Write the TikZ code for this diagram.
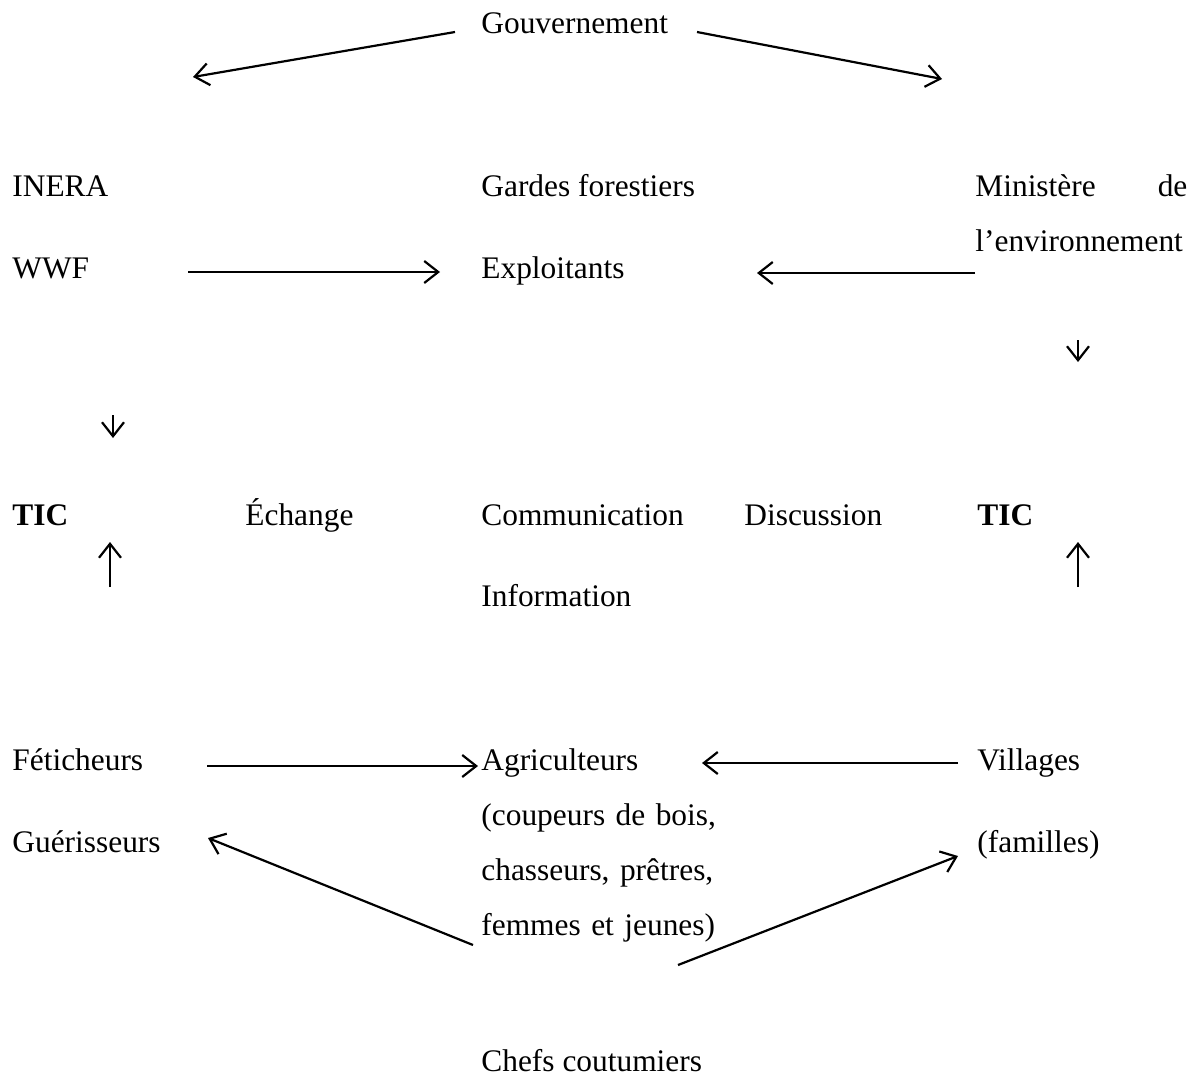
\documentclass[tikz,border=0pt]{standalone}
\usepackage{fontspec}
\setmainfont{Liberation Serif}
\usetikzlibrary{arrows.meta}
\begin{document}
\begin{tikzpicture}[x = 0.5pt, y = -0.5pt,
  lbl/.style = {anchor = base west, inner sep = 0pt, font = \fontsize{15.7}{27.5}\selectfont},
  arr/.style = {line width = 1.1pt, -{Straight Barb[length = 7pt, width = 11pt]}}]
\useasboundingbox (0,0) rectangle (1197,1076);
% top
\node[lbl] (gouv) at (481,33) {Gouvernement};
\node[lbl] (inera) at (12,196) {INERA};
\node[lbl] (gardes) at (481,196) {Gardes forestiers};
\node[lbl, text width = 106pt, align = left] (minenv) at (975,196) {Ministère \hfill de\\l’environnement};
\node[lbl] (wwf) at (12,278) {WWF};
\node[lbl] (exploit) at (481,278) {Exploitants};
% middle
\node[lbl] (ticl) at (12,525) {\textbf{TIC}};
\node[lbl] (echange) at (245,525) {Échange};
\node[lbl] (comm) at (481,525) {Communication};
\node[lbl] (disc) at (744,525) {Discussion};
\node[lbl] (ticr) at (977,525) {\textbf{TIC}};
\node[lbl] (info) at (481,606) {Information};
% bottom
\node[lbl] (fetich) at (12,770) {Féticheurs};
\node[lbl, text width = 125pt, align = left] (agri) at (481,770) {Agriculteurs\\(coupeurs de bois,\\chasseurs, prêtres,\\femmes et jeunes)};
\node[lbl] (villages) at (977,770) {Villages};
\node[lbl] (guer) at (12,852) {Guérisseurs};
\node[lbl] (famil) at (977,852) {(familles)};
\node[lbl] (chefs) at (481,1071) {Chefs coutumiers};
% free ends
\coordinate (gl0) at (455,32);  \coordinate (gl1) at (193,77);
\coordinate (gr0) at (697,32);  \coordinate (gr1) at (942,79);
\coordinate (ww0) at (188,272); \coordinate (ww1) at (440,272);
\coordinate (mi0) at (975,273); \coordinate (mi1) at (757,273);
\coordinate (dr0) at (1078,340); \coordinate (dr1) at (1078,362);
\coordinate (dl0) at (113,415); \coordinate (dl1) at (113,438);
\coordinate (ul0) at (110,587); \coordinate (ul1) at (110,542);
\coordinate (ur0) at (1078,587); \coordinate (ur1) at (1078,542);
\coordinate (fe0) at (207,766);
\coordinate (vi0) at (958,763); \coordinate (vi1) at (702,763);
\coordinate (ch0) at (473,945); \coordinate (ch1) at (208,838);
\coordinate (cf0) at (678,965); \coordinate (cf1) at (958,856);
\draw[arr] (gl0) -- (gl1);
\draw[arr] (gr0) -- (gr1);
\draw[arr] (ww0) -- (ww1);
\draw[arr] (mi0) -- (mi1);
\draw[arr] (dr0) -- (dr1);
\draw[arr] (dl0) -- (dl1);
\draw[arr] (ul0) -- (ul1);
\draw[arr] (ur0) -- (ur1);
\draw[arr] (fe0) -- ([xshift = -1.5pt, yshift = 2pt]agri.base west);
\draw[arr] (vi0) -- (vi1);
\draw[arr] (ch0) -- (ch1);
\draw[arr] (cf0) -- (cf1);
\end{tikzpicture}
\end{document}
